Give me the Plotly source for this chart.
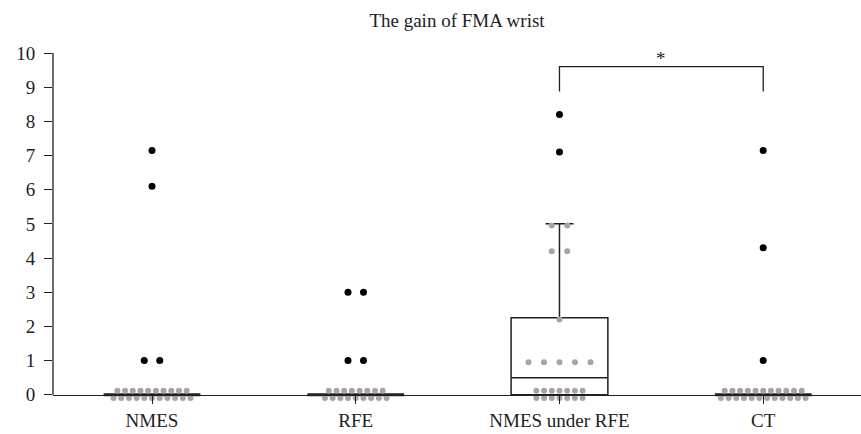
import plotly.graph_objects as go
from collections import Counter

# ---------------- data ----------------
categories = ["NMES", "RFE", "NMES under RFE", "CT"]

nmes_values = [0] * 21 + [1, 1, 6.1, 7.15]
rfe_values = [0] * 17 + [1, 1, 3, 3]
nmes_rfe_values = [0] * 14 + [0.95] * 5 + [2.2, 4.2, 4.2, 4.95, 4.95, 7.1, 8.2]
ct_values = [0] * 23 + [1, 4.3, 7.15]

# box statistics as drawn in the reference
box_q1 = [0, 0, 0, 0]
box_median = [0, 0, 0.5, 0]
box_q3 = [0, 0, 2.25, 0]
box_lower = [0, 0, 0, 0]
box_upper = [0, 0, 5, 0]

y_ticks = list(range(0, 11))
title_text = "The gain of FMA wrist"
sig_pair = (2, 3)
sig_label = "*"

groups = [nmes_values, rfe_values, nmes_rfe_values, ct_values]

# ---------------- layout geometry ----------------
W, H = 861, 434
Y0_PX, Y10_PX = 395, 53          # pixel rows of value 0 and value 10
YPAD = 0.3                       # room below 0 for the swarm's lower row
ML, MR, MT = 53, 0, Y10_PX
px_y = (Y0_PX - Y10_PX) / 10.0
MB = H - (Y0_PX + YPAD * px_y)
XR = [-0.486, 3.48]
YR = [-YPAD, 10]
px_x = (W - ML - MR) / (XR[1] - XR[0])

FONT = "Liberation Serif, Times New Roman, serif"
GREY = "#a9a4a4"
BLACK = "#000000"
LINE = "#231f20"

fig = go.Figure()

# swarm placement computed from the data
for gi, vals in enumerate(groups):
    counts = Counter(vals)
    gx, gy, gc = [], [], []
    for v, n in counts.items():
        if n <= 6:
            rows = [(n, 0.0, 15.5)]
        else:
            top = n // 2
            rows = [(top, 4.0, 7.7), (n - top, -3.3, 7.7)]
        for cnt, dy, sp in rows:
            for k in range(cnt):
                off = (k - (cnt - 1) / 2) * sp
                gx.append(gi + off / px_x)
                gy.append(v + dy / px_y)
                gc.append(BLACK if v > box_upper[gi] else GREY)
    sizes = [7 if c == BLACK else 6 for c in gc]
    fig.add_trace(go.Scatter(
        x=gx, y=gy, mode="markers", cliponaxis=False,
        marker=dict(color=gc, size=sizes, opacity=1, line=dict(width=0)),
        showlegend=False, hoverinfo="skip"))

# boxes
for gi in range(len(categories)):
    flat = box_q3[gi] == box_q1[gi]
    fig.add_trace(go.Box(
        x=[gi], q1=[box_q1[gi]], median=[box_median[gi]], q3=[box_q3[gi]],
        lowerfence=[box_lower[gi]], upperfence=[box_upper[gi]],
        width=0.475, whiskerwidth=0.29, boxpoints=False,
        fillcolor="rgba(0,0,0,0)",
        line=dict(color=LINE, width=3 if flat else 1.5),
        showlegend=False, hoverinfo="skip"))

# y-axis line that stops at 0, as in the reference
fig.add_shape(type="line", xref="paper", yref="y", x0=0, x1=0, y0=0, y1=10,
              line=dict(color=LINE, width=1.3), layer="above")

# significance bracket
fig.add_shape(type="path",
              path=f"M {sig_pair[0]} 8.87 L {sig_pair[0]} 9.6 L {sig_pair[1]} 9.6 L {sig_pair[1]} 8.87",
              xref="x", yref="y", line=dict(color=LINE, width=1.3))
fig.add_annotation(x=(sig_pair[0] + sig_pair[1]) / 2, y=9.6, yshift=8,
                   text=sig_label, showarrow=False,
                   font=dict(family=FONT, size=19, color="#222"))

fig.update_layout(
    width=W, height=H,
    margin=dict(l=ML, r=MR, t=MT, b=MB, pad=0),
    paper_bgcolor="white", plot_bgcolor="white",
    title=dict(text=title_text, x=0.5, xref="paper", xanchor="center",
               y=1 - 20 / H, yanchor="middle",
               font=dict(family=FONT, size=19, color="#222")),
    xaxis=dict(range=XR, tickvals=list(range(len(categories))), ticktext=categories,
               anchor="free", position=YPAD / (10 + YPAD),
               ticks="outside", ticklen=8, tickwidth=1.3, tickcolor=LINE,
               showline=True, linecolor=LINE, linewidth=1.3,
               showgrid=False, zeroline=False,
               tickfont=dict(family=FONT, size=19, color="#222")),
    yaxis=dict(range=YR, tickvals=y_ticks, ticks="outside", ticklen=8,
               tickwidth=1.3, tickcolor=LINE, ticklabelstandoff=5,
               showline=False, showgrid=False, zeroline=False,
               tickfont=dict(family=FONT, size=19, color="#222")),
)

fig.write_html("out.html")
